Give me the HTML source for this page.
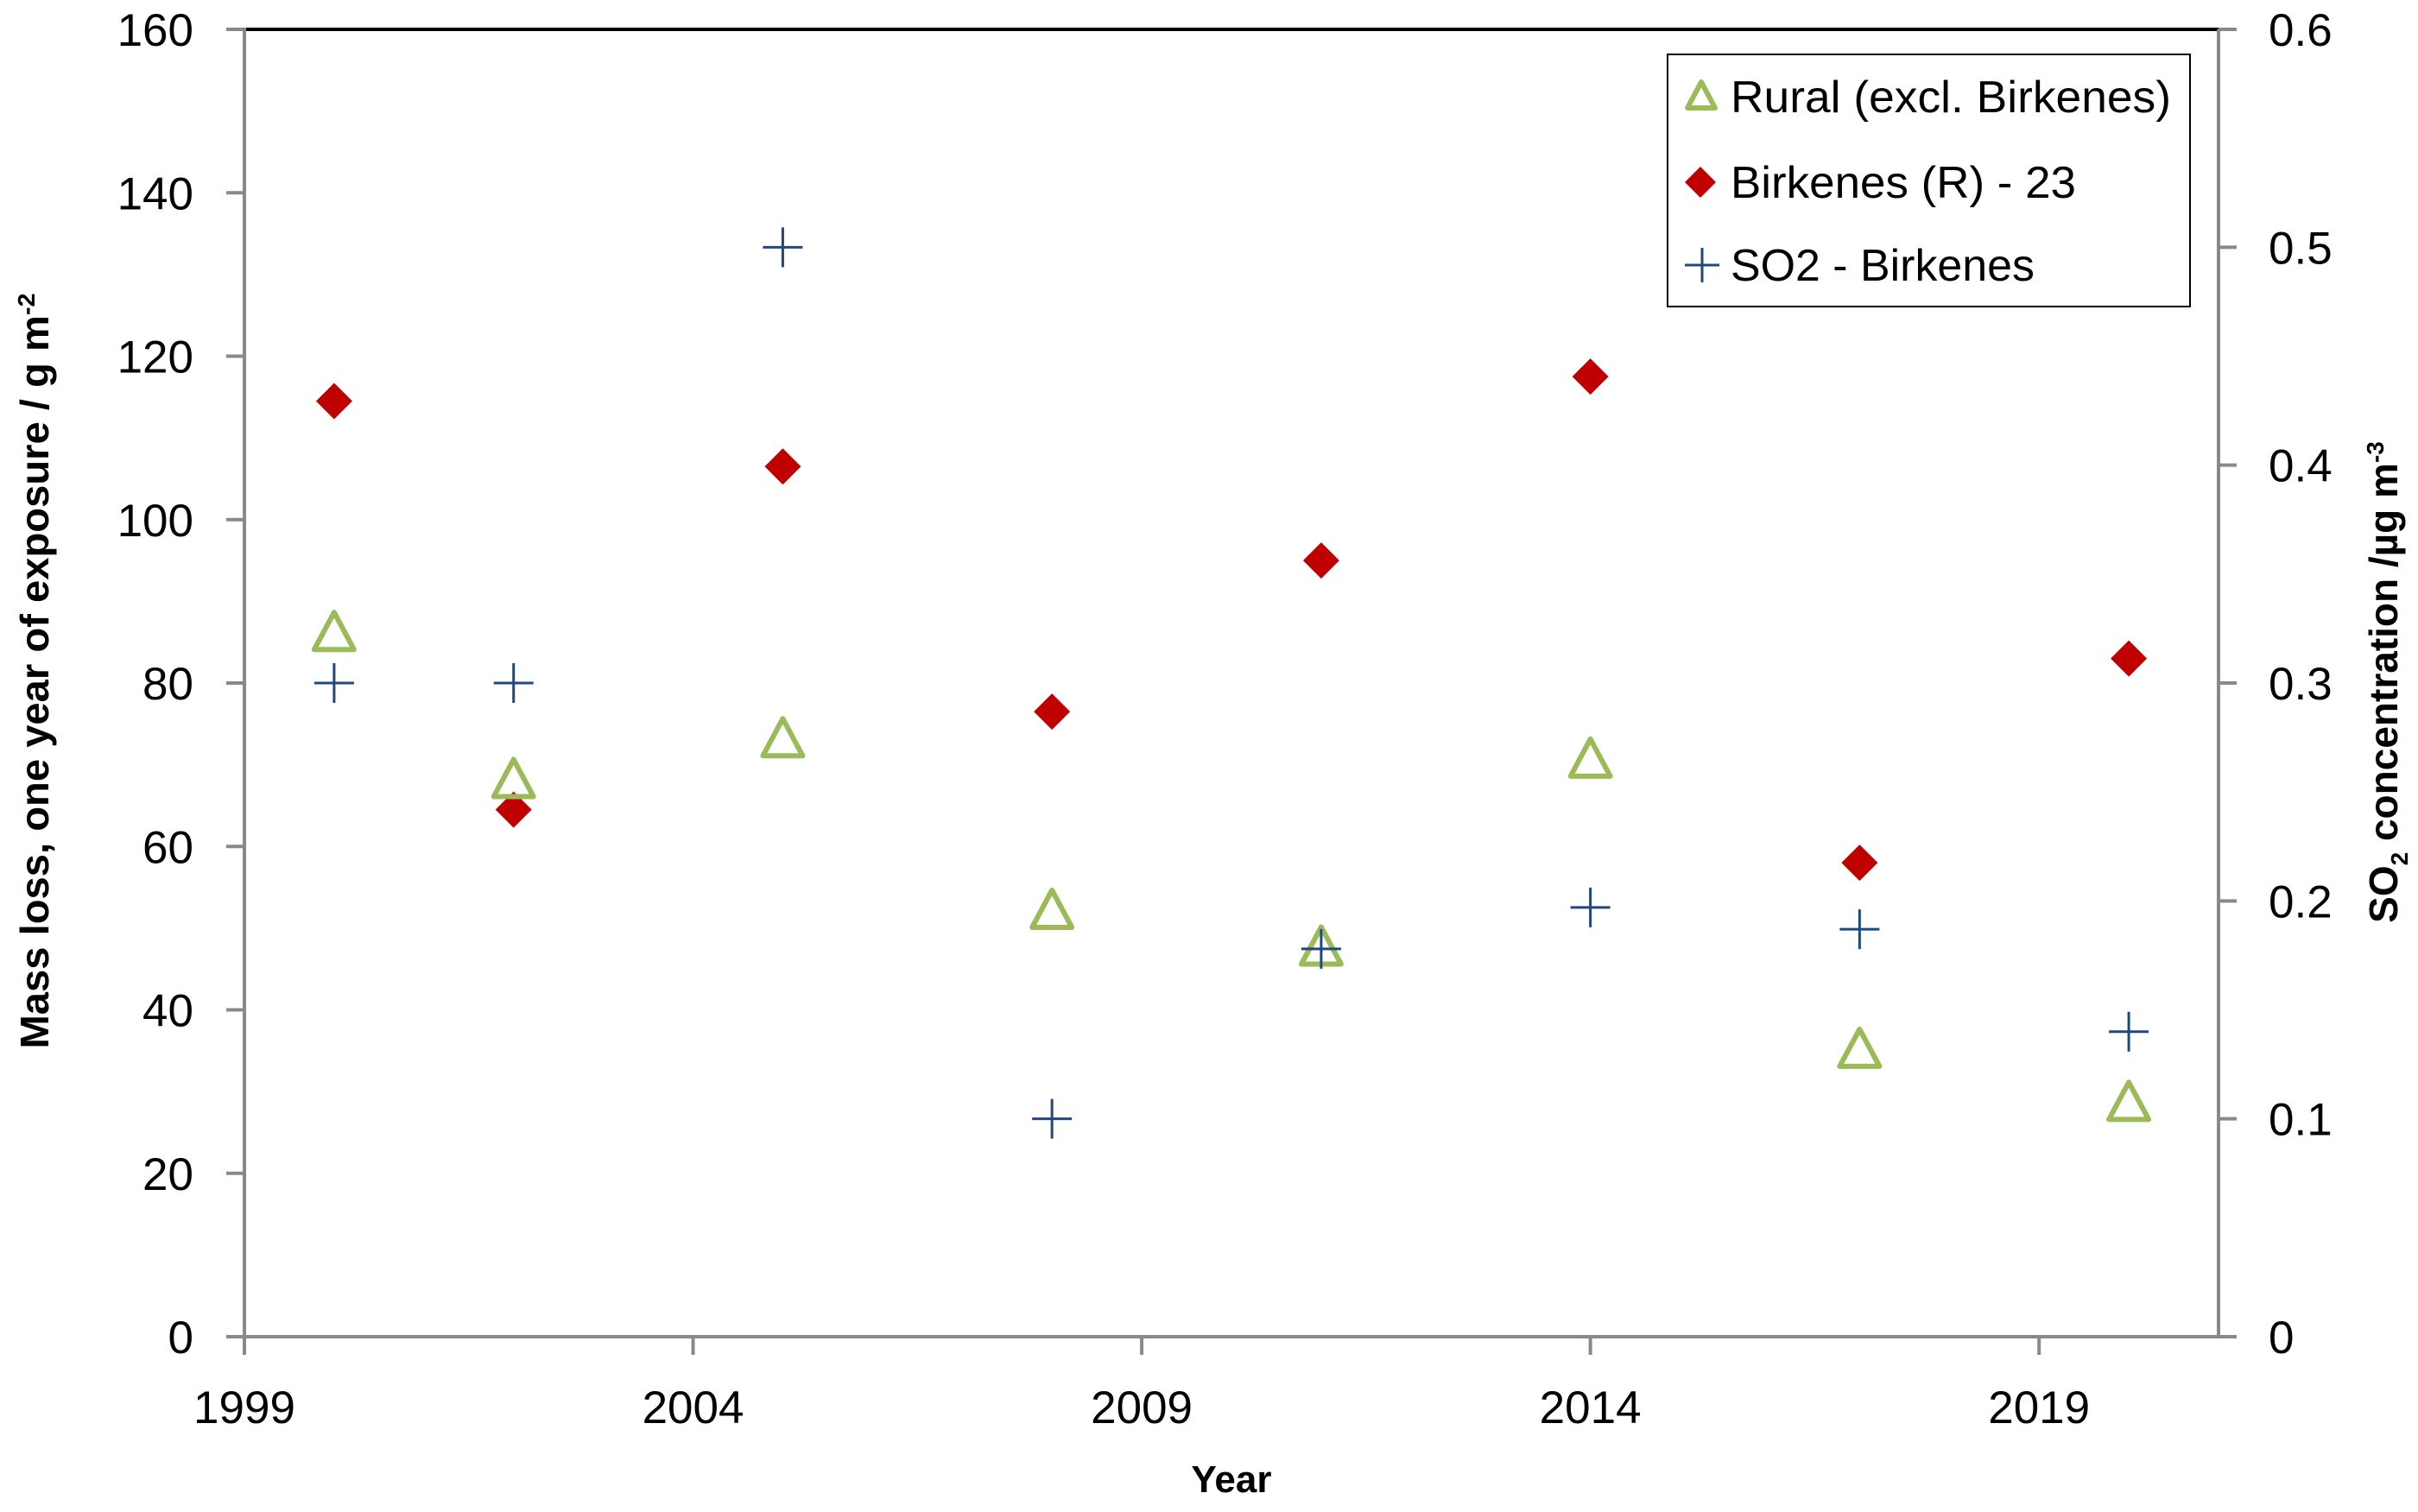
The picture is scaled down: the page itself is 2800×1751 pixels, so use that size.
<!DOCTYPE html>
<html><head><meta charset="utf-8"><style>
html,body{margin:0;padding:0;background:#fff}
svg text{font-family:"Liberation Sans",sans-serif}
</style></head><body>
<svg id="chart" width="2800" height="1746" viewBox="0 0 2800 1746" xmlns="http://www.w3.org/2000/svg">
<g id="axes"></g>
<g id="marks"></g>
<g id="legend">
  <rect x="1931" y="63" width="605" height="292" fill="#fff" stroke="#000" stroke-width="2"/>
  <polygon points="1970,95 1986,125 1954,125" fill="none" stroke="#9BBB59" stroke-width="6" stroke-linejoin="round"/>
  <text x="2004" y="130" font-size="52" textLength="510" lengthAdjust="spacingAndGlyphs">Rural (excl. Birkenes)</text>
  <polygon points="1969,193 1987,211 1969,229 1951,211" fill="#C00000"/>
  <text x="2004" y="229" font-size="52" textLength="400" lengthAdjust="spacingAndGlyphs">Birkenes (R) - 23</text>
  <path d="M1951,307 H1991 M1971,287 V327" stroke="#1F497D" stroke-width="3"/>
  <text x="2004" y="325" font-size="52" textLength="352" lengthAdjust="spacingAndGlyphs">SO2 - Birkenes</text>
</g>
<text x="1426" y="1728" font-size="44" font-weight="bold" text-anchor="middle">Year</text>
<text transform="translate(56,777) rotate(-90)" font-size="46" font-weight="bold" text-anchor="middle" textLength="875" lengthAdjust="spacingAndGlyphs">Mass loss, one year of exposure / g m<tspan dy="-16" font-size="28">-2</tspan></text>
<text transform="translate(2776,790) rotate(-90)" font-size="46" font-weight="bold" text-anchor="middle">SO<tspan dy="12" font-size="28">2</tspan><tspan dy="-12"> concentration /µg m</tspan><tspan dy="-16" font-size="28">-3</tspan></text>
</svg>
<script>
const years = [2000, 2002, 2005, 2008, 2011, 2014, 2017, 2020];
const rural = [86, 68, 73, 52, 47.5, 70.5, 35, 28.5];
const birkenes = [114.5, 64.5, 106.5, 76.5, 95, 117.5, 58, 83];
const so2 = [0.3, 0.3, 0.5, 0.1, 0.178, 0.197, 0.187, 0.14];
const xTicks = [1999, 2004, 2009, 2014, 2019];
const yLeftTicks = [0, 20, 40, 60, 80, 100, 120, 140, 160];
const yRightTicks = [0, 0.1, 0.2, 0.3, 0.4, 0.5, 0.6];

const L = 283, R = 2569, T = 34, B = 1548;
const X = v => L + (v - 1999) / (2021 - 1999) * (R - L);
const YL = v => B - v / 160 * (B - T);
const YR = v => B - v / 0.6 * (B - T);
const NS = 'http://www.w3.org/2000/svg';
function mk(tag, attrs, parent, txt) {
  const e = document.createElementNS(NS, tag);
  for (const k in attrs) e.setAttribute(k, attrs[k]);
  if (txt !== undefined) e.textContent = txt;
  parent.appendChild(e); return e;
}
const ax = document.getElementById('axes');
const mg = document.getElementById('marks');
const grey = '#898989';
let e;
e = mk('line', {x1: L, y1: T, x2: R, y2: T, stroke: '#000', 'stroke-width': 4}, ax);


e = mk('line', {x1: L, y1: T - 2, x2: L, y2: B, stroke: grey, 'stroke-width': 4}, ax);


e = mk('line', {x1: R, y1: T, x2: R, y2: B, stroke: grey, 'stroke-width': 4}, ax);


e = mk('line', {x1: L - 2, y1: B, x2: R + 21, y2: B, stroke: grey, 'stroke-width': 4}, ax);


yLeftTicks.forEach(v => {
  const y = YL(v);
  e = mk('line', {x1: L - 21, y1: y, x2: L, y2: y, stroke: grey, 'stroke-width': 4}, ax);
  
  
  e = mk('text', {x: 224, y: y + 19, 'font-size': 53, 'text-anchor': 'end'}, ax, String(v));
  
  
});
yRightTicks.forEach(v => {
  const y = YR(v);
  e = mk('line', {x1: R, y1: y, x2: R + 21, y2: y, stroke: grey, 'stroke-width': 4}, ax);
  
  
  e = mk('text', {x: 2627, y: y + 19, 'font-size': 53}, ax, String(v));
  
  
});
xTicks.forEach(v => {
  const x = X(v);
  e = mk('line', {x1: x, y1: B, x2: x, y2: B + 21, stroke: grey, 'stroke-width': 4}, ax);
  
  
  e = mk('text', {x: x, y: 1648, 'font-size': 53, 'text-anchor': 'middle'}, ax, String(v));
  
  
});
years.forEach((yr, i) => {
  const x = X(yr);
  let y = YL(birkenes[i]);
  e = mk('polygon', {points: `${x},${y-21} ${x+21},${y} ${x},${y+21} ${x-21},${y}`, fill: '#C00000'}, mg);
  
  
  y = YL(rural[i]);
  e = mk('polygon', {points: `${x},${y-25} ${x+23},${y+18} ${x-23},${y+18}`, fill: 'none', stroke: '#9BBB59', 'stroke-width': 6, 'stroke-linejoin': 'round'}, mg);
  
  
  y = YR(so2[i]);
  e = mk('path', {d: `M${x-23},${y} H${x+23} M${x},${y-23} V${y+23}`, stroke: '#1F497D', 'stroke-width': 3}, mg);
  
  
});
</script>
</body></html>
